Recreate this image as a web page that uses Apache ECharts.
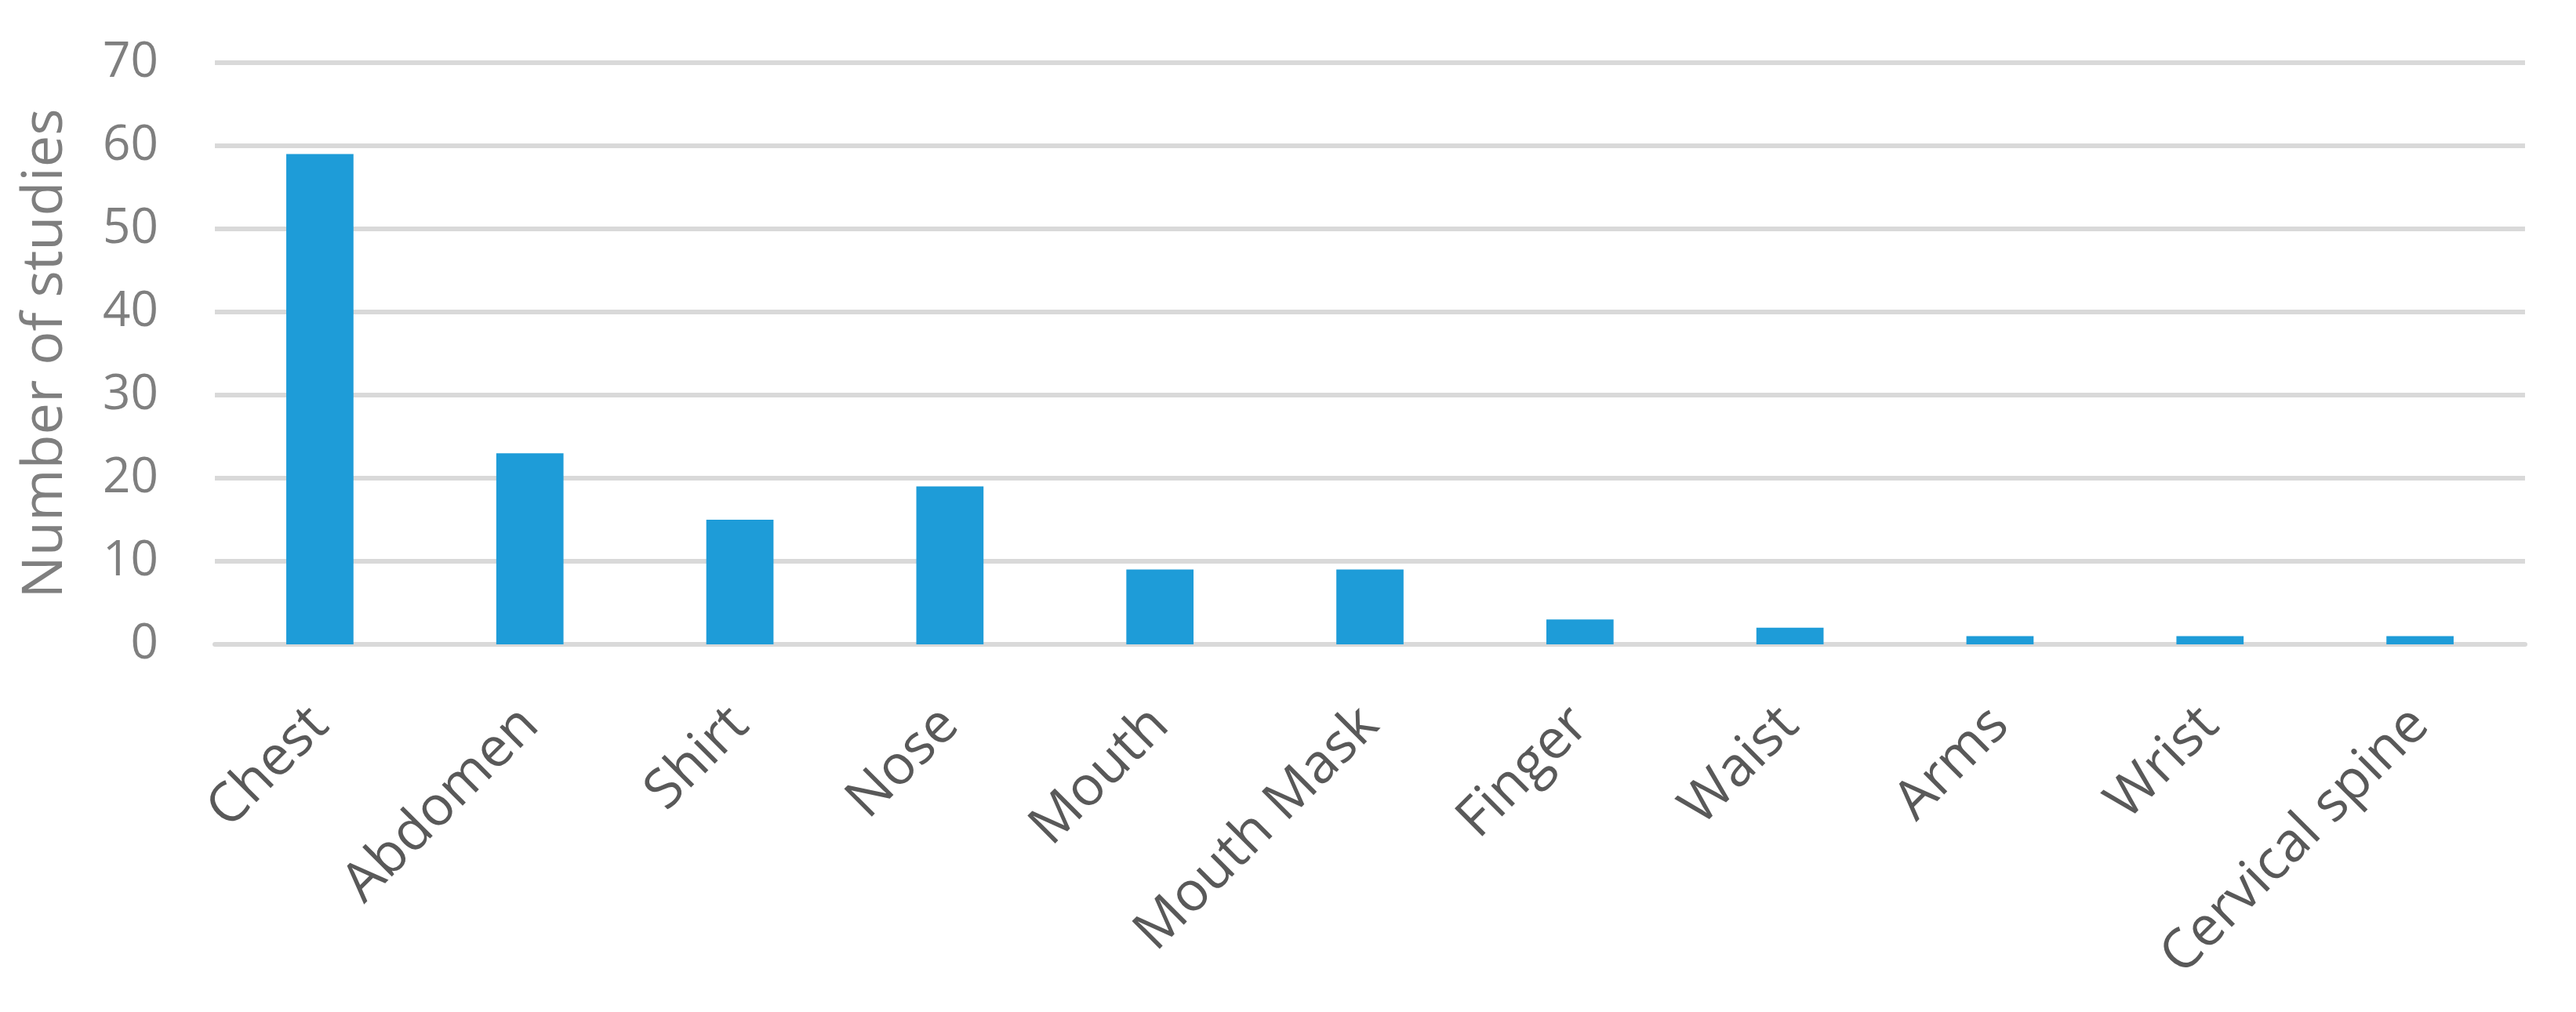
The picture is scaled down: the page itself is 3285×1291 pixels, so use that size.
<!DOCTYPE html>
<html>
<head>
<meta charset="utf-8">
<script src="https://cdn.jsdelivr.net/npm/echarts@6/dist/echarts.min.js"></script>
<style>
  html, body { margin: 0; padding: 0; background: #fff; }
  #chart { width: 3285px; height: 1291px; }
</style>
</head>
<body>
<div id="chart"></div>
<script>
// body locations and how many studies used each
const categories = ['Chest', 'Abdomen', 'Shirt', 'Nose', 'Mouth', 'Mouth Mask', 'Finger', 'Waist', 'Arms', 'Wrist', 'Cervical spine'];
const studies = [59, 23, 15, 19, 9, 9, 3, 2, 1, 1, 1];
const yTicks = [0, 10, 20, 30, 40, 50, 60, 70];

const chart = echarts.init(document.getElementById('chart'));
const font = '"Open Sans", "Noto Sans", sans-serif';

const option = {
    animation: false,
    grid: { left: 274, right: 65, top: 80, bottom: 469 },
    xAxis: {
        type: 'category',
        data: categories,
        axisLine: { show: true, lineStyle: { color: '#d9d9d9', width: 6 } },
        axisTick: { show: false },
        axisLabel: {
            rotate: 45,
            interval: 0,
            margin: 92,
            color: '#595959',
            fontSize: 70,
            fontFamily: font
        }
    },
    yAxis: {
        type: 'value',
        min: yTicks[0],
        max: yTicks[yTicks.length - 1],
        interval: 10,
        name: 'Number of studies',
        nameLocation: 'middle',
        nameGap: 180,
        nameTextStyle: { color: '#7f7f7f', fontSize: 72, fontFamily: font },
        axisLine: { show: false },
        axisTick: { show: false },
        axisLabel: { color: '#7f7f7f', fontSize: 62, fontFamily: font, margin: 72 },
        splitLine: { lineStyle: { color: '#d9d9d9', width: 6 } }
    },
    series: [{
        type: 'bar',
        data: studies,
        barWidth: '32%',
        itemStyle: { color: '#1e9cd8' }
    }]
};

chart.setOption(option);
</script>
</body>
</html>
